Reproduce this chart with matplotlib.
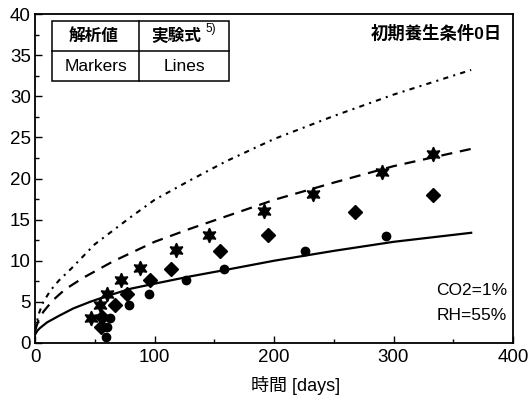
import numpy as np
import matplotlib
matplotlib.use("Agg")
import matplotlib.pyplot as plt
from matplotlib.patches import Rectangle
from matplotlib.ticker import MultipleLocator

plt.rcParams['font.family'] = ['Liberation Sans', 'Noto Sans CJK JP', 'DejaVu Sans']

# 解析値 (markers)
star_t = [47, 54, 60, 72, 88, 118, 146, 192, 233, 290, 333]
star_v = [3.0, 4.6, 5.9, 7.6, 9.1, 11.3, 13.1, 16.0, 18.1, 20.8, 23.0]
dia_t = [55, 56, 67, 77, 96, 114, 155, 195, 268, 333]
dia_v = [2.0, 3.1, 4.6, 5.9, 7.6, 9.0, 11.2, 13.1, 15.9, 18.0]
circ_t = [59, 60, 63, 79, 95, 126, 158, 226, 294]
circ_v = [0.7, 2.0, 3.0, 4.6, 5.9, 7.6, 9.0, 11.2, 13.0]

# 実験式 (lines)
solid_t = [0, 2, 4, 10, 20, 32, 46, 60, 80, 103, 130, 160, 200, 250, 300, 365]
solid_v = [1.0, 1.5, 1.8, 2.5, 3.3, 4.2, 5.0, 5.7, 6.6, 7.3, 8.1, 8.9, 10.0, 11.2, 12.3, 13.4]
dash_t = [0, 3, 7, 15, 25, 40, 65, 100, 130, 160, 200, 250, 300, 365]
dash_v = [1.5, 2.8, 3.8, 5.2, 6.5, 7.9, 9.9, 12.3, 13.9, 15.4, 17.4, 19.5, 21.5, 23.6]
dot_t = [0, 3, 7, 13, 20, 30, 50, 80, 100, 130, 160, 200, 250, 300, 365]
dot_v = [1.5, 3.5, 5.0, 6.4, 7.6, 9.0, 12.0, 15.3, 17.4, 19.8, 22.1, 24.8, 27.6, 30.2, 33.2]

fig = plt.figure(figsize=(5.32, 3.98), dpi=100)
ax = fig.add_axes([0.0658, 0.1382, 0.8985, 0.8266])

ax.plot(solid_t, solid_v, color='black', lw=1.6)
ax.plot(dash_t, dash_v, color='black', lw=1.6, linestyle=(0, (5, 3.5)))
ax.plot(dot_t, dot_v, color='black', lw=1.5, linestyle=(0, (2.5, 2.5, 1, 2.5)))

ax.plot(star_t, star_v, linestyle='none', marker=(6, 1, 0), ms=10.5, color='black')
ax.plot(dia_t, dia_v, linestyle='none', marker='D', ms=7, color='black')
ax.plot(circ_t, circ_v, linestyle='none', marker='o', ms=6, color='black')

ax.set_xlim(0, 400)
ax.set_ylim(0, 40)
ax.xaxis.set_major_locator(MultipleLocator(100))
ax.xaxis.set_minor_locator(MultipleLocator(50))
ax.yaxis.set_major_locator(MultipleLocator(5))
ax.yaxis.set_minor_locator(MultipleLocator(2.5))
ax.tick_params(which='both', direction='in', labelsize=13.5, width=1)
ax.tick_params(which='major', length=5)
ax.tick_params(which='minor', length=3)
ax.tick_params(axis='x', pad=4)
ax.tick_params(axis='y', pad=3)
for s in ax.spines.values():
    s.set_linewidth(1.3)

ax.text(0.546, -0.128, '時間 [days]', transform=ax.transAxes,
        ha='center', va='center', fontsize=13)

# table box
x0, xm, x1 = 0.0356, 0.2176, 0.406
y0, ym, y1 = 0.7964, 0.8875, 0.9787
ax.add_patch(Rectangle((x0, y0), x1 - x0, y1 - y0, transform=ax.transAxes,
                       fill=False, lw=1.1, color='black', zorder=5))
ax.plot([xm, xm], [y0, y1], transform=ax.transAxes, color='black', lw=1.1)
ax.plot([x0, x1], [ym, ym], transform=ax.transAxes, color='black', lw=1.1)
ax.text((x0 + xm) / 2 - 0.005, (ym + y1) / 2, '解析値', transform=ax.transAxes,
        ha='center', va='center', fontsize=12, fontweight='bold')
ax.text(0.295, (ym + y1) / 2, '実験式', transform=ax.transAxes,
        ha='center', va='center', fontsize=12, fontweight='bold')
ax.text(0.356, 0.953, '5)', transform=ax.transAxes,
        ha='left', va='center', fontsize=8.5)
ax.text((x0 + xm) / 2, (y0 + ym) / 2, 'Markers', transform=ax.transAxes,
        ha='center', va='center', fontsize=12.5)
ax.text((xm + x1) / 2, (y0 + ym) / 2, 'Lines', transform=ax.transAxes,
        ha='center', va='center', fontsize=12.5)

ax.text(0.977, 0.942, '初期養生条件0日', transform=ax.transAxes,
        ha='right', va='center', fontsize=12.5, fontweight='bold')
ax.text(0.987, 0.161, 'CO2=1%', transform=ax.transAxes,
        ha='right', va='center', fontsize=12.5)
ax.text(0.987, 0.085, 'RH=55%', transform=ax.transAxes,
        ha='right', va='center', fontsize=12.5)

fig.savefig('out.png', dpi=100)
